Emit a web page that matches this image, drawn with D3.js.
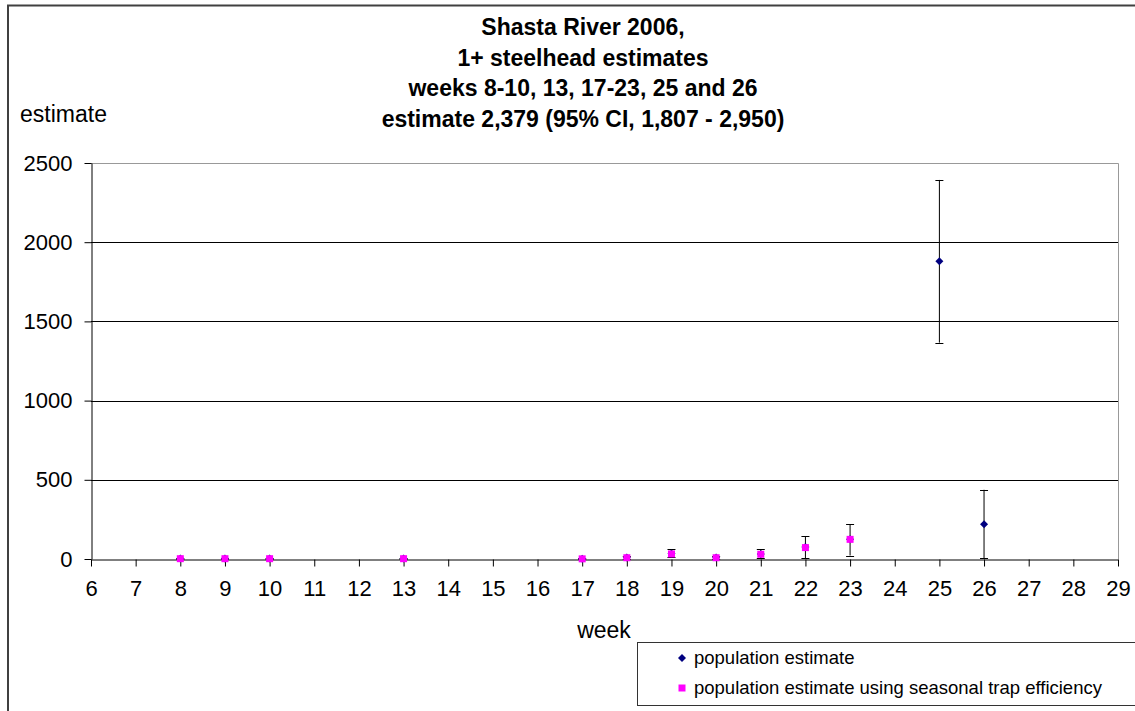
<!DOCTYPE html>
<html>
<head>
<meta charset="utf-8">
<script src="https://cdnjs.cloudflare.com/ajax/libs/d3/7.8.5/d3.min.js"></script>
<style>
  body { margin: 0; background: #fff; }
  svg { display: block; font-family: "Liberation Sans", Arial, sans-serif; }
</style>
</head>
<body>
<svg width="1135" height="711"></svg>
<script>
// population estimate (with 95% CI)
var weeks = [8, 9, 10, 13, 17, 18, 19, 20, 21, 22, 23, 25, 26];
var popEst = [3, 3, 3, 3, 2, 10, 35, 10, 32, 75, 125, 1880, 220];
var popLow = [0, 0, 0, 0, 0, 0, 10, 0, 8, 5, 22, 1366, 5];
var popHigh = [6, 6, 6, 6, 5, 18, 62, 20, 60, 145, 220, 2393, 437];

// population estimate using seasonal trap efficiency
var seasonWeeks = [8, 9, 10, 13, 17, 18, 19, 20, 21, 22, 23];
var seasonEst = [2, 2, 2, 2, 1, 8, 32, 8, 30, 72, 124];

var xTicks = d3.range(6, 30);
var yTicks = [0, 500, 1000, 1500, 2000, 2500];

var titleLines = [
  "Shasta River 2006,",
  "1+ steelhead estimates",
  "weeks 8-10, 13, 17-23, 25 and 26",
  "estimate 2,379 (95% CI, 1,807 - 2,950)"
];
var legendLabels = [
  "population estimate",
  "population estimate using seasonal trap efficiency"
];

var svg = d3.select("svg"),
    margin = {top: 163, right: 17, bottom: 152, left: 91},
    width = +svg.attr("width") - margin.left - margin.right,
    height = +svg.attr("height") - margin.top - margin.bottom;

// outer chart border (only top and left visible)
svg.append("path")
    .attr("d", "M8,711V5.5H1135")
    .attr("fill", "none")
    .attr("stroke", "#404040")
    .attr("stroke-width", 2);

var x = d3.scaleLinear().domain([6, 29]).range([0, width]),
    y = d3.scaleLinear().domain([0, 2500]).range([height, 0]);

var g = svg.append("g")
    .attr("transform", "translate(" + margin.left + "," + margin.top + ")");

// plot border
g.append("path")
    .attr("d", "M0,0.5H" + (width + 0.5) + "V" + height)
    .attr("fill", "none")
    .attr("stroke", "#999");

// gridlines
g.selectAll(".grid")
    .data(yTicks.filter(function(d) { return d > 0 && d < 2500; }))
  .enter().append("line")
    .attr("x1", 0)
    .attr("x2", width)
    .attr("y1", function(d) { return Math.round(y(d)) + 0.5; })
    .attr("y2", function(d) { return Math.round(y(d)) + 0.5; })
    .attr("stroke", "#000");

var xAxis = g.append("g")
    .attr("transform", "translate(0," + (height + 0.5) + ")")
    .call(d3.axisBottom(x).tickValues(xTicks).tickSize(7).tickSizeOuter(0).tickPadding(14));

var yAxis = g.append("g")
    .attr("transform", "translate(0.5,0)")
    .call(d3.axisLeft(y).tickValues(yTicks).tickFormat(d3.format("d")).tickSize(7).tickSizeOuter(0).tickPadding(12));

[xAxis, yAxis].forEach(function(a) {
  a.selectAll("text").attr("font-size", "22px").attr("fill", "#000").attr("font-family", null);
  a.selectAll("line").attr("stroke", "#000");
  a.select(".domain").attr("stroke", "#000");
});

// error bars
var pop = weeks.map(function(w, i) {
  return {week: w, est: popEst[i], low: popLow[i], high: popHigh[i]};
});

var bars = g.selectAll(".err")
    .data(pop)
  .enter().append("g")
    .attr("stroke", "#000");

bars.append("line")
    .attr("x1", function(d) { return x(d.week); })
    .attr("x2", function(d) { return x(d.week); })
    .attr("y1", function(d) { return y(d.low); })
    .attr("y2", function(d) { return y(d.high); });

bars.selectAll(".cap")
    .data(function(d) { return [d, d].map(function(e, j) { return {week: e.week, v: j ? e.high : e.low}; }); })
  .enter().append("line")
    .attr("x1", function(d) { return x(d.week) - 4; })
    .attr("x2", function(d) { return x(d.week) + 4; })
    .attr("y1", function(d) { return Math.round(y(d.v)) + 0.5; })
    .attr("y2", function(d) { return Math.round(y(d.v)) + 0.5; });

var diamond = "M0,-4L4,0L0,4L-4,0Z";

g.selectAll(".pop")
    .data(pop)
  .enter().append("path")
    .attr("d", diamond)
    .attr("fill", "#000080")
    .attr("transform", function(d) { return "translate(" + x(d.week) + "," + y(d.est) + ")"; });

g.selectAll(".season")
    .data(seasonWeeks.map(function(w, i) { return {week: w, est: seasonEst[i]}; }))
  .enter().append("rect")
    .attr("fill", "#ff00ff")
    .attr("width", 7)
    .attr("height", 7)
    .attr("x", function(d) { return x(d.week) - 3.5; })
    .attr("y", function(d) { return y(d.est) - 3.5; });

// titles
svg.append("g")
    .selectAll("text")
    .data(titleLines)
  .enter().append("text")
    .attr("x", 583)
    .attr("y", function(d, i) { return 35 + i * 30.5; })
    .attr("text-anchor", "middle")
    .attr("font-size", "23px")
    .attr("font-weight", "bold")
    .text(function(d) { return d; });

svg.append("text")
    .attr("x", 20)
    .attr("y", 122)
    .attr("font-size", "23px")
    .text("estimate");

svg.append("text")
    .attr("x", 604)
    .attr("y", 638)
    .attr("text-anchor", "middle")
    .attr("font-size", "23px")
    .text("week");

// legend
var legend = svg.append("g")
    .attr("transform", "translate(637,642)");

legend.append("rect")
    .attr("x", 0.5)
    .attr("y", 0.5)
    .attr("width", 600)
    .attr("height", 63)
    .attr("fill", "#fff")
    .attr("stroke", "#333");

var items = legend.selectAll(".item")
    .data(legendLabels)
  .enter().append("g")
    .attr("transform", function(d, i) { return "translate(45," + (16 + i * 30) + ")"; });

items.append("path")
    .attr("d", function(d, i) { return i ? "M-3.5,-3.5h7v7h-7Z" : "M0,-4L4,0L0,4L-4,0Z"; })
    .attr("fill", function(d, i) { return i ? "#ff00ff" : "#000080"; });

items.append("text")
    .attr("x", 12)
    .attr("dy", "0.35em")
    .attr("font-size", "18.5px")
    .text(function(d) { return d; });
</script>
</body>
</html>
